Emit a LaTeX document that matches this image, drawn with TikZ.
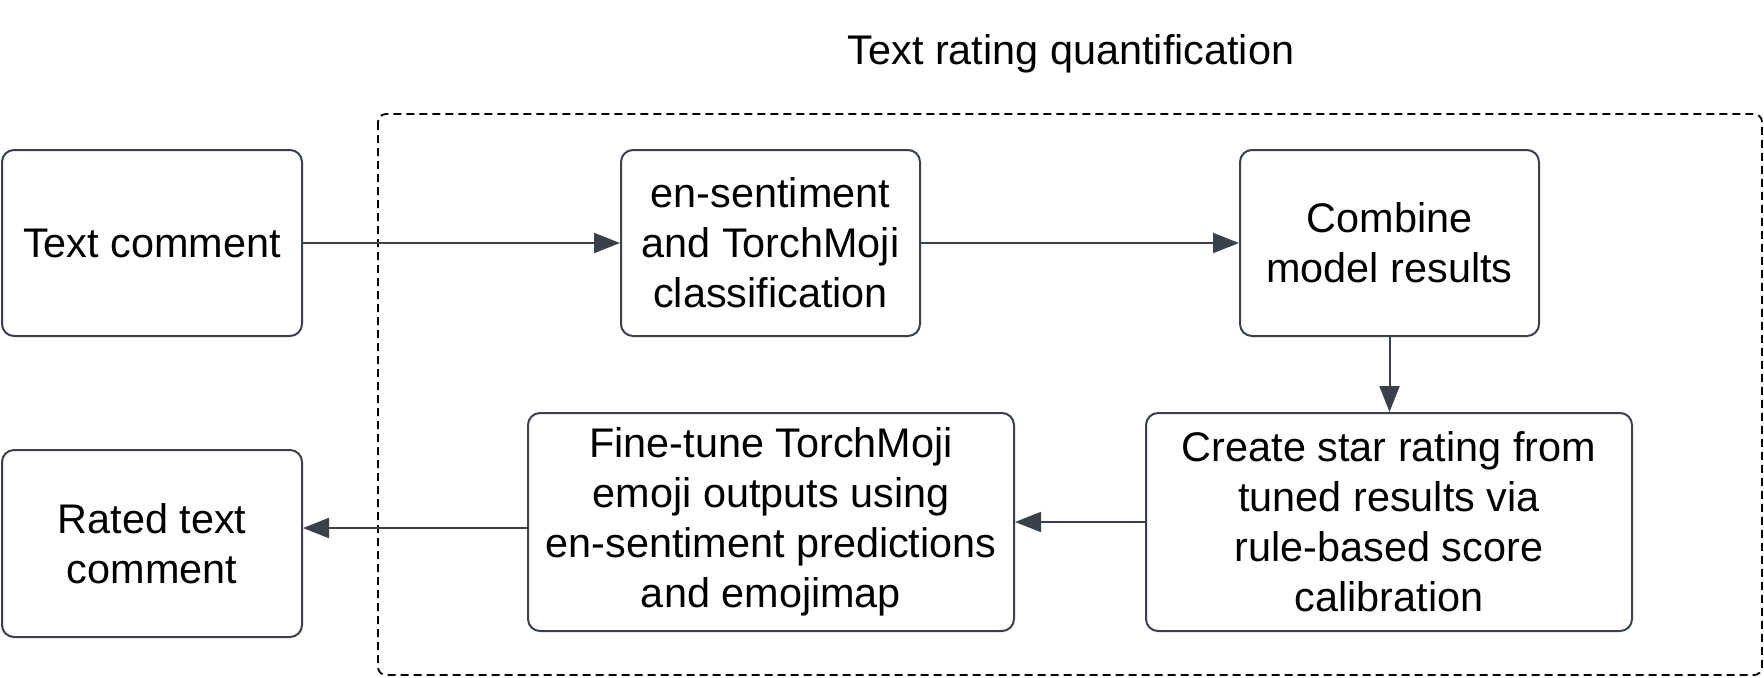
\documentclass[tikz,border=0pt]{standalone}
\usepackage{fontspec}
\setmainfont{Liberation Sans}
\usepackage{tikz}
\usetikzlibrary{arrows.meta}

\definecolor{edge}{HTML}{3A414A}

\tikzset{
  stepbox/.style={draw=edge, line width=1pt, rounded corners=6pt, align=center,
    font=\fontsize{20.7}{25}\selectfont, inner sep=0pt},
  arr/.style={draw=edge, line width=1pt, -{Triangle[length=13pt,width=10pt]}}
}

\begin{document}
\begin{tikzpicture}[x=0.5pt, y=-0.5pt]

\useasboundingbox (0,0) rectangle (1764,677);

% group frame and its title
\draw[dash pattern=on 4pt off 2.5pt, line width=0.9pt, rounded corners=4pt] (378,114) rectangle (1762,675);
\node (title) at (1071,54) {\fontsize{20.7}{25}\selectfont Text rating quantification};

% top row
\node[stepbox, minimum width=150pt, minimum height=93pt] (txt) at (152,243) {Text comment};
\node[stepbox, minimum width=149.5pt, minimum height=93pt] (sent) at (770.5,243) {en-sentiment\\and TorchMoji\\classification};
\node[stepbox, minimum width=149.5pt, minimum height=93pt] (comb) at (1389.5,243) {Combine\\model results};

% bottom row
\node[stepbox, minimum width=243pt, minimum height=109pt] (star) at (1389,522) {Create star rating from\\tuned results via\\rule-based score\\calibration};
\node[stepbox, minimum width=243pt, minimum height=109pt] (fine) at (771,522) {Fine-tune TorchMoji\\emoji outputs using\\en-sentiment predictions\\and emojimap};
\node[stepbox, minimum width=150pt, minimum height=93.5pt] (rated) at (152,543.5) {Rated text\\comment};

\draw[arr] (txt) -- (sent);
\draw[arr] (sent) -- (comb);
\draw[arr] (comb.south) -- (comb.south |- star.north);
\draw[arr] (star) -- (fine);
\draw[arr] ([yshift=-3pt]fine.west) -- ([yshift=-3pt]fine.west -| rated.east);

\end{tikzpicture}
\end{document}
